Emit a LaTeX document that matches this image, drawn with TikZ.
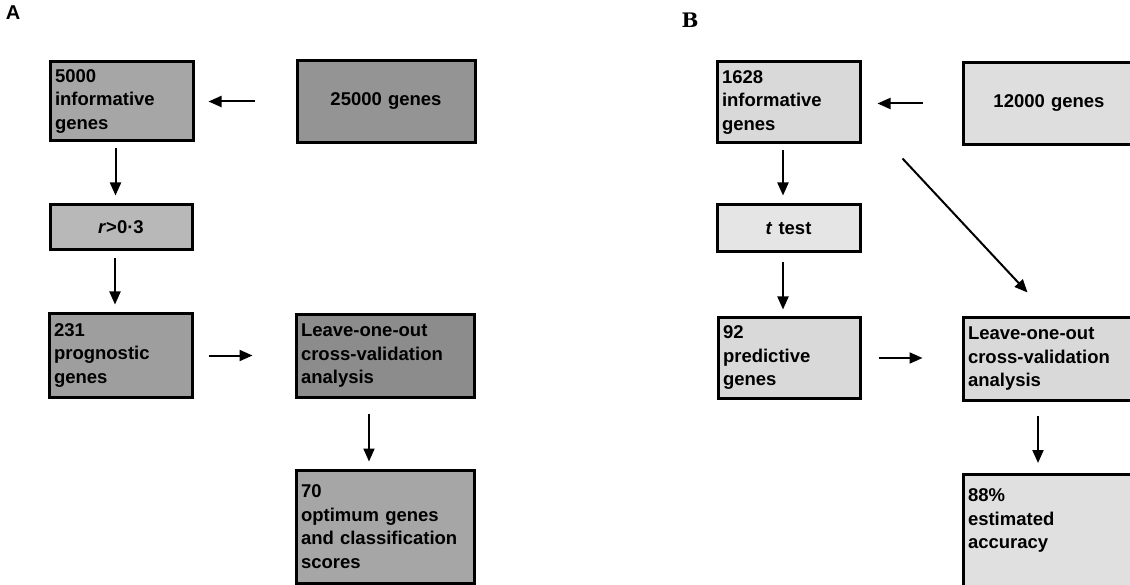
\documentclass[tikz,border=0pt]{standalone}
\usepackage{fontspec}
\setmainfont{Liberation Sans}
\newfontfamily\panelserif{DejaVu Serif}
\usepackage{tikz}
\usetikzlibrary{arrows.meta}

\begin{document}
\begin{tikzpicture}[
    x=1pt, y=-1pt,
    >={Triangle[length=13pt, width=11pt]},
    gbox/.style={
        draw=black,
        line width=3pt,
        inner xsep=5pt,
        inner ysep=3pt,
        font=\fontsize{18.5}{23.5}\selectfont\bfseries
    },
    flow/.style={
        ->,
        line width=2pt
    }
]

\useasboundingbox (0,0) rectangle (1130,585);
\clip (0,0) rectangle (1130,585);

% ---------------- A ----------------

\node[font=\fontsize{20}{20}\selectfont\bfseries] (labA) at (13,13) {A};

% Left column
\node[
    gbox,
    fill=black!35,
    text width=133pt,
    minimum height=79pt,
    align=left
] (infA) at (121.5,101.5) {5000\\informative\\genes};

\node[
    gbox,
    fill=black!28,
    text width=132pt,
    minimum height=45pt,
    align=center
] (rA) at (121,227.5) {\textit{r}>0·3};

\node[
    gbox,
    fill=black!38,
    text width=133pt,
    minimum height=83pt,
    align=left
] (progA) at (120.5,355.5) {231\\prognostic\\genes};

% Right column
\node[
    gbox,
    fill=black!42,
    text width=168pt,
    minimum height=82pt,
    align=center
] (allA) at (386,101.5) {25000 genes};

\node[
    gbox,
    fill=black!45,
    text width=168pt,
    minimum height=82pt,
    align=left
] (looA) at (385,356) {Leave-one-out\\cross-validation\\analysis};

\node[
    gbox,
    fill=black!35,
    text width=168pt,
    minimum height=113pt,
    align=left
] (optA) at (385,526.5) {70\\optimum genes\\and classification\\scores};

% Arrows
\draw[flow, shorten <=41pt, shorten >=14pt] (allA.west) -- (allA.west -| infA.east);
\draw[flow, shorten <=6pt, shorten >=8pt] ([xshift=-6pt]infA.south) -- ([xshift=-6pt]infA.south |- rA.north);
\draw[flow, shorten <=7pt, shorten >=8pt] ([xshift=-6pt]rA.south) -- ([xshift=-6pt]rA.south |- progA.north);
\draw[flow, shorten <=15pt, shorten >=42pt] (progA.east) -- (progA.east -| looA.west);
\draw[flow, shorten <=15pt, shorten >=7pt] ([xshift=-16pt]looA.south) -- ([xshift=-16pt]looA.south |- optA.north);

% ---------------- B ----------------

\node[font=\fontsize{20}{20}\selectfont\bfseries\panelserif] (labB) at (690,20) {B};

% Left column
\node[
    gbox,
    fill=black!15,
    text width=133pt,
    minimum height=81pt,
    align=left
] (infB) at (788.5,102.5) {1628\\informative\\genes};

\node[
    gbox,
    fill=black!10,
    text width=133pt,
    minimum height=47pt,
    align=center
] (tB) at (788.5,228.5) {\textit{t} test};

\node[
    gbox,
    fill=black!15,
    text width=132pt,
    minimum height=80pt,
    align=left
] (predB) at (789,358) {92\\predictive\\genes};

% Right column (runs off the page)
\node[
    gbox,
    fill=black!13,
    text width=162pt,
    minimum height=82pt,
    align=center
] (allB) at (1049,103.5) {12000 genes};

\node[
    gbox,
    fill=black!15,
    text width=162pt,
    minimum height=82pt,
    align=left
] (looB) at (1049,359) {Leave-one-out\\cross-validation\\analysis};

\node[
    gbox,
    fill=black!12,
    anchor=north,
    inner ysep=11pt
] (accB) at (1049,473) {\parbox[t][100pt][t]{162pt}{\strut 88\%\\estimated\\accuracy}};

% Arrows
\draw[flow, shorten <=39pt, shorten >=16pt] (allB.west) -- (allB.west -| infB.east);
\draw[flow, shorten <=6pt, shorten >=8pt] ([xshift=-5.5pt]infB.south) -- ([xshift=-5.5pt]infB.south |- tB.north);
\draw[flow, shorten <=9pt, shorten >=7pt] ([xshift=-5.5pt]tB.south) -- ([xshift=-5.5pt]tB.south |- predB.north);
\draw[flow, shorten <=17pt, shorten >=39pt] (predB.east) -- (predB.east -| looB.west);
\draw[flow, shorten <=14pt, shorten >=10pt] ([xshift=-11pt]looB.south) -- ([xshift=-11pt]looB.south |- accB.north);
\draw[flow] ([shift={(41,14)}]infB.south east) -- ([shift={(66,-24)}]looB.north west);

\end{tikzpicture}
\end{document}
